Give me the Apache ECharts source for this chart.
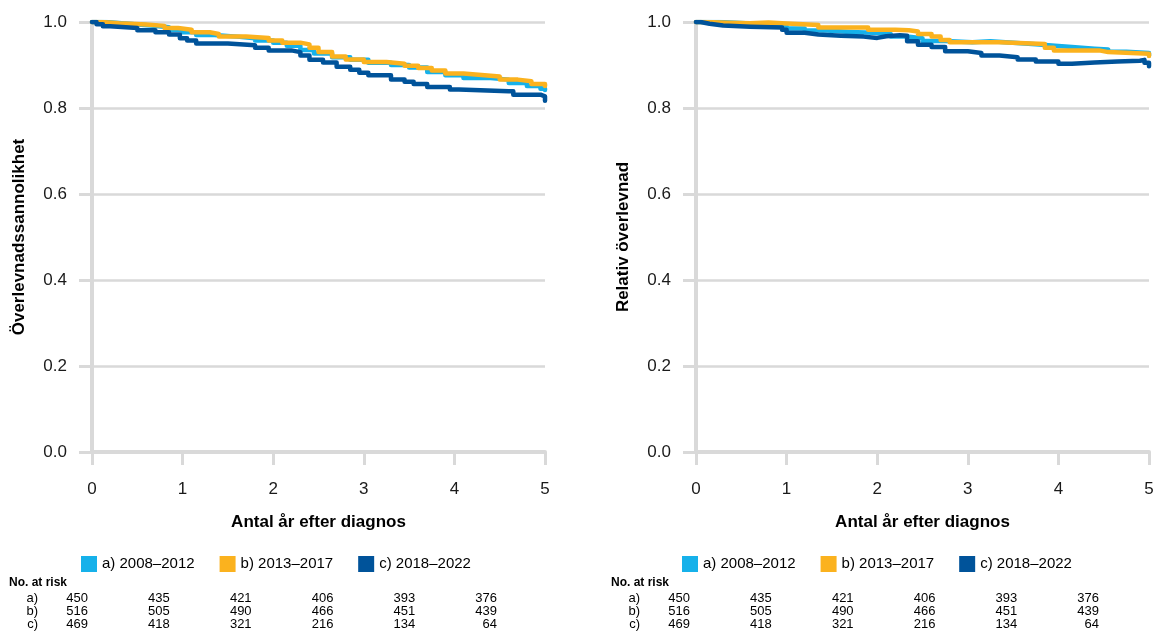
<!DOCTYPE html>
<html>
<head>
<meta charset="utf-8">
<script src="https://cdn.jsdelivr.net/npm/echarts@6/dist/echarts.min.js"></script>
<style>html,body{margin:0;padding:0;background:#fff}#c{width:1162px;height:635px}</style>
</head>
<body>
<div id="c"></div>
<script>
// ---- data ----
const seriesNames = ['a) 2008\u20132012', 'b) 2013\u20132017', 'c) 2018\u20132022'];
const xTicks = [0, 1, 2, 3, 4, 5];
const yTicks = [0, 0.2, 0.4, 0.6, 0.8, 1.0];
const panelTitlesY = ['\u00d6verlevnadssannolikhet', 'Relativ \u00f6verlevnad'];
const xTitle = 'Antal \u00e5r efter diagnos';

// Left panel (overall survival): [years, survival]
const leftA = [[0,1],[0.15,.996],[0.4,.992],[0.65,.988],[0.85,.982],[1.0,.976],[1.15,.970],[1.35,.966],[1.6,.962],[1.8,.957],[2.0,.952],[2.15,.945],[2.3,.935],[2.45,.927],[2.65,.918],[2.85,.912],[3.05,.905],[3.3,.900],[3.5,.894],[3.7,.884],[3.9,.876],[4.1,.870],[4.4,.866],[4.6,.858],[4.8,.851],[4.95,.845],[5,.842]];
const leftB = [[0,1],[0.1,.997],[0.3,.994],[0.6,.991],[0.8,.986],[0.95,.982],[1.1,.976],[1.3,.972],[1.4,.966],[1.7,.963],[1.95,.957],[2.1,.952],[2.3,.948],[2.4,.940],[2.5,.930],[2.65,.920],[2.8,.913],[3.0,.907],[3.25,.903],[3.45,.898],[3.6,.893],[3.75,.887],[3.9,.880],[4.1,.877],[4.3,.873],[4.5,.866],[4.7,.862],[4.85,.856],[5,.851]];
const leftC = [[0,1],[0.05,.995],[0.12,.990],[0.2,.986],[0.5,.981],[0.7,.976],[0.85,.971],[0.97,.962],[1.05,.957],[1.15,.950],[1.5,.946],[1.8,.940],[1.95,.934],[2.2,.930],[2.3,.922],[2.4,.912],[2.55,.906],[2.7,.896],[2.85,.889],[2.95,.882],[3.05,.876],[3.3,.866],[3.45,.861],[3.55,.856],[3.7,.849],[3.95,.843],[4.05,.839],[4.6,.839],[4.65,.831],[4.95,.827],[5,.817]];

// Right panel (relative survival)
const rightA = [[0,1],[0.25,.997],[0.55,.995],[0.85,.990],[1.0,.985],[1.2,.980],[1.45,.977],[1.7,.975],[1.95,.972],[2.15,.966],[2.35,.962],[2.5,.956],[2.75,.953],[3.05,.955],[3.25,.952],[3.5,.948],[3.75,.944],[4.0,.942],[4.15,.938],[4.4,.936],[4.55,.931],[4.75,.928],[5,.922]];
const rightB = [[0,1],[0.1,.998],[0.35,.997],[0.6,.999],[0.8,.997],[0.95,.993],[1.35,.987],[1.9,.982],[2.2,.981],[2.35,.978],[2.45,.972],[2.6,.966],[2.7,.958],[2.8,.953],[3.35,.949],[3.85,.940],[3.95,.934],[4.45,.930],[4.55,.926],[5,.921]];
const rightC = [[0,1],[0.05,.996],[0.15,.992],[0.3,.989],[0.6,.987],[0.95,.982],[1.0,.975],[1.2,.971],[1.35,.968],[1.6,.966],[1.85,.963],[2.0,.967],[2.1,.969],[2.25,.968],[2.33,.955],[2.45,.947],[2.6,.942],[2.75,.932],[3.0,.928],[3.15,.922],[3.35,.918],[3.55,.913],[3.75,.908],[4.0,.903],[4.15,.906],[4.4,.908],[4.65,.910],[4.9,.912],[4.95,.905],[5,.897]];

// Number at risk
const riskLabels = ['a)', 'b)', 'c)'];
const riskA = [450, 435, 421, 406, 393, 376];
const riskB = [516, 505, 490, 466, 451, 439];
const riskC = [469, 418, 321, 216, 134, 64];

// ---- styling ----
const colors = ['#16b1ea', '#fbb21e', '#00539a'];
const FONT = '"Liberation Sans", Arial, sans-serif';
const GRAY = '#d9d9d9';

const panels = [
  { left: 92, data: [leftA, leftB, leftC], legendLeft: 81, tableX: 0 },
  { left: 696, data: [rightA, rightB, rightC], legendLeft: 682, tableX: 602 }
];

const grids = [], xAxes = [], yAxes = [], series = [], legends = [], graphics = [];
panels.forEach((p, i) => {
  grids.push({ left: p.left, top: 22, width: 453, height: 430, containLabel: false });
  xAxes.push({
    gridIndex: i, type: 'value', min: 0, max: 5, interval: 1,
    name: xTitle, nameLocation: 'middle', nameGap: 62,
    nameTextStyle: { fontFamily: FONT, fontSize: 17, fontWeight: 'bold', color: '#000' },
    axisLine: { show: true, lineStyle: { color: GRAY, width: 4 } },
    axisTick: { show: true, length: 13, lineStyle: { color: GRAY, width: 3 } },
    axisLabel: { margin: 29, fontFamily: FONT, fontSize: 17, color: '#1a1a1a', formatter: v => String(v) },
    splitLine: { show: false }
  });
  yAxes.push({
    gridIndex: i, type: 'value', min: 0, max: 1, interval: 0.2,
    name: panelTitlesY[i], nameLocation: 'middle', nameGap: 64, nameRotate: 90,
    nameTextStyle: { fontFamily: FONT, fontSize: 17, fontWeight: 'bold', color: '#000' },
    axisLine: { show: true, lineStyle: { color: GRAY, width: 4 } },
    axisTick: { show: true, length: 13, lineStyle: { color: GRAY, width: 3 } },
    axisLabel: { margin: 25, fontFamily: FONT, fontSize: 17, color: '#1a1a1a', formatter: v => v.toFixed(1) },
    splitLine: { show: true, lineStyle: { color: GRAY, width: 2.5 } }
  });
  p.data.forEach((d, k) => {
    series.push({
      name: seriesNames[k], type: 'line', xAxisIndex: i, yAxisIndex: i,
      step: 'end', data: d, showSymbol: false, symbol: 'none', silent: true,
      color: colors[k],
      lineStyle: { color: colors[k], width: 4.5, cap: 'round', join: 'round' },
      z: 2 + k
    });
  });
  legends.push({
    left: p.legendLeft, top: 556, orient: 'horizontal', padding: 0,
    icon: 'rect', itemWidth: 16, itemHeight: 16, itemGap: 25,
    data: seriesNames, selectedMode: false,
    textStyle: { fontFamily: FONT, fontSize: 15, color: '#000' }
  });
  // risk table
  graphics.push({ type: 'text', silent: true, style: { text: 'No. at risk', x: 9 + p.tableX, y: 583, align: 'left', verticalAlign: 'middle', fill: '#000', font: 'bold 12px ' + FONT } });
  [riskA, riskB, riskC].forEach((row, r) => {
    const y = 598 + r * 13.3;
    graphics.push({ type: 'text', silent: true, style: { text: riskLabels[r], x: 38 + p.tableX, y: y, align: 'right', verticalAlign: 'middle', fill: '#000', font: '13px ' + FONT } });
    row.forEach((v, c) => {
      graphics.push({ type: 'text', silent: true, style: { text: String(v), x: 88 + p.tableX + c * 81.8, y: y, align: 'right', verticalAlign: 'middle', fill: '#000', font: '13px ' + FONT } });
    });
  });
});

const chart = echarts.init(document.getElementById('c'), null, { renderer: 'canvas' });
chart.setOption({
  animation: false,
  backgroundColor: '#fff',
  grid: grids, xAxis: xAxes, yAxis: yAxes, series: series, legend: legends,
  graphic: graphics
});
</script>
</body>
</html>
